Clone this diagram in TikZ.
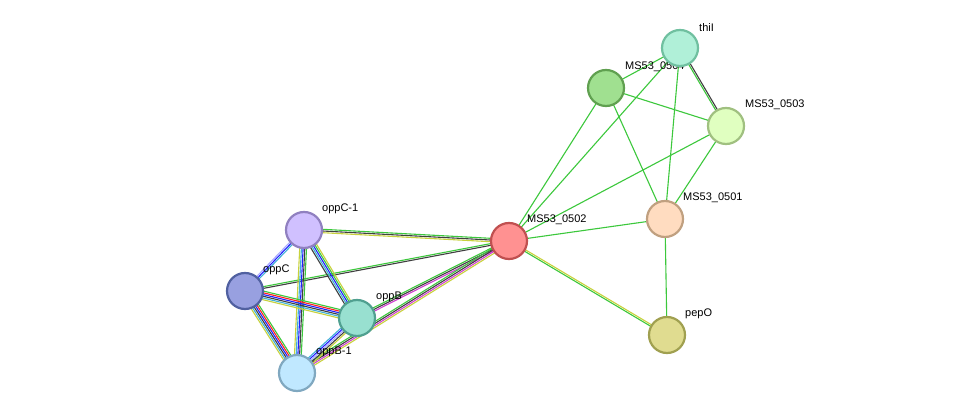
\documentclass[tikz,border=0pt]{standalone}
\usepackage{fontspec}
\setmainfont{Liberation Sans}
\usetikzlibrary{calc}
\definecolor{egr}{HTML}{3CC83C}
\definecolor{eye}{HTML}{C8D23C}
\definecolor{edk}{HTML}{404040}
\definecolor{ebl}{HTML}{2020FF}
\definecolor{ecy}{HTML}{40B0D8}
\definecolor{ere}{HTML}{FF2020}
\definecolor{ema}{HTML}{D040D0}
\definecolor{epu}{HTML}{A8A8FF}
\newcommand{\bundle}[4]{%
  \foreach \cc [count=\ii] in {#4} {%
    \pgfmathsetmacro{\off}{(\ii-(#3+1)/2)*1.7}
    \draw[line width=1.1pt,draw=\cc] ($(#1)!\off pt!90:(#2)$) -- ($(#2)!\off pt!-90:(#1)$);
  }}
\begin{document}
\begin{tikzpicture}[x=1pt,y=-1pt,
  prot/.style={circle,minimum size=36pt,inner sep=0pt,line width=2.2pt},
  lab/.style={font=\fontsize{11}{13}\selectfont,anchor=west,inner sep=0pt}]
\useasboundingbox[fill=white] (0,0) rectangle (976,419);
\coordinate (thi) at (680,48);
\coordinate (p504) at (606,88);
\coordinate (p503) at (726,126);
\coordinate (p501) at (665,219);
\coordinate (p502) at (509,241);
\coordinate (pep) at (667,335);
\coordinate (oc1) at (304,230);
\coordinate (oc) at (245,291);
\coordinate (ob) at (357,318);
\coordinate (ob1) at (297,373);
% edges
\bundle{p502}{oc1}{3}{egr,edk,eye}
\bundle{p502}{oc}{2}{egr,edk}
\bundle{p502}{ob}{3}{egr,edk,ema}
\bundle{p502}{ob1}{4}{egr,edk,ema,eye}
\bundle{oc1}{oc}{3}{epu,ebl,ecy}
\bundle{oc1}{ob1}{5}{eye,ecy,ebl,edk,egr}
\bundle{oc1}{ob}{5}{edk,ecy,ebl,egr,eye}
\bundle{oc}{ob}{6}{eye,ecy,edk,ebl,ere,egr}
\bundle{oc}{ob1}{6}{eye,ecy,edk,ebl,ere,egr}
\bundle{ob}{ob1}{5}{ecy,ebl,epu,edk,eye}
\bundle{p502}{p504}{1}{egr}
\bundle{p502}{thi}{1}{egr}
\bundle{p502}{p503}{1}{egr}
\bundle{p502}{p501}{1}{egr}
\bundle{p502}{pep}{2}{egr,eye}
\bundle{p504}{thi}{1}{egr}
\bundle{p504}{p503}{1}{egr}
\bundle{p504}{p501}{1}{egr}
\bundle{thi}{p503}{2}{egr,edk}
\bundle{thi}{p501}{1}{egr}
\bundle{p503}{p501}{1}{egr}
\bundle{p501}{pep}{1}{egr}
% nodes
\node[prot,draw={rgb,255:red,192;green,80;blue,80},fill={rgb,255:red,255;green,145;blue,145}] (n502) at (p502) {};
\node[lab] at (527,220) {MS53\_0502};
\node[prot,draw={rgb,255:red,192;green,160;blue,128},fill={rgb,255:red,255;green,220;blue,192}] (n501) at (p501) {};
\node[lab] at (683,198) {MS53\_0501};
\node[prot,draw={rgb,255:red,160;green,160;blue,80},fill={rgb,255:red,224;green,220;blue,144}] (npep) at (pep) {};
\node[lab] at (685,314) {pepO};
\node[prot,draw={rgb,255:red,160;green,192;blue,128},fill={rgb,255:red,224;green,255;blue,192}] (n503) at (p503) {};
\node[lab] at (745,105) {MS53\_0503};
\node[prot,draw={rgb,255:red,96;green,160;blue,80},fill={rgb,255:red,160;green,224;blue,144}] (n504) at (p504) {};
\node[lab] at (625,67) {MS53\_0504};
\node[prot,draw={rgb,255:red,112;green,192;blue,160},fill={rgb,255:red,176;green,240;blue,216}] (nthi) at (thi) {};
\node[lab] at (699,28) {thiI};
\node[prot,draw={rgb,255:red,144;green,128;blue,192},fill={rgb,255:red,208;green,192;blue,255}] (noc1) at (oc1) {};
\node[lab] at (322,209) {oppC-1};
\node[prot,draw={rgb,255:red,80;green,96;blue,160},fill={rgb,255:red,152;green,160;blue,224}] (noc) at (oc) {};
\node[lab] at (263,270) {oppC};
\node[prot,draw={rgb,255:red,80;green,160;blue,144},fill={rgb,255:red,152;green,224;blue,208}] (nob) at (ob) {};
\node[lab] at (376,297) {oppB};
\node[prot,draw={rgb,255:red,128;green,168;blue,192},fill={rgb,255:red,192;green,232;blue,255}] (nob1) at (ob1) {};
\node[lab] at (316,352) {oppB-1};
\end{tikzpicture}
\end{document}
